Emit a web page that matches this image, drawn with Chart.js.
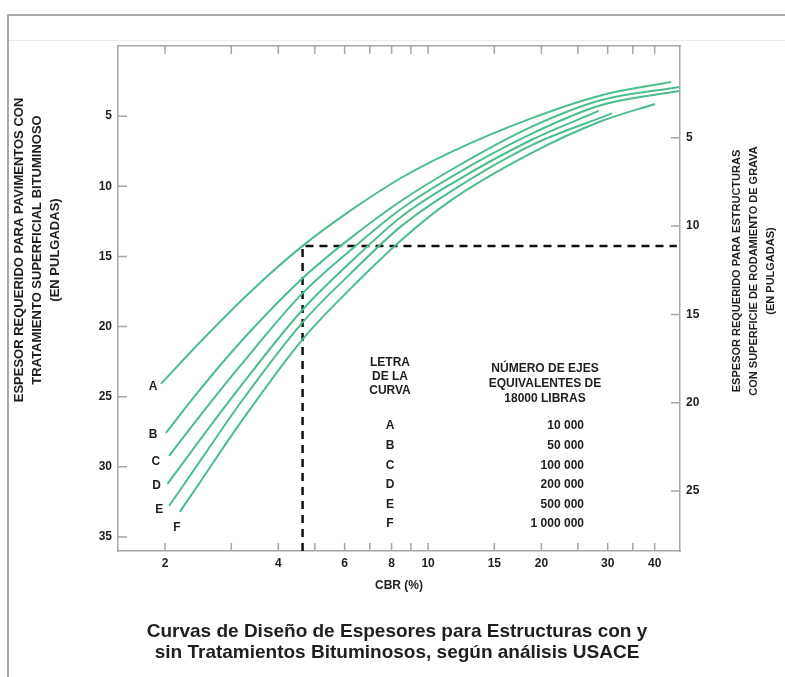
<!DOCTYPE html>
<html>
<head>
<meta charset="utf-8">
<script src="https://cdn.jsdelivr.net/npm/chart.js@4.4.1/dist/chart.umd.min.js"></script>
<style>
  body { margin: 0; background: #fff; }
  #wrap { position: relative; width: 785px; height: 677px; overflow: hidden; }
  #frame { position: absolute; left: 7px; top: 14px; width: 800px; height: 700px;
           border-left: 2px solid #a9a9a9; border-top: 2px solid #a9a9a9; }
  #rule { position: absolute; left: 9px; right: 0; top: 40px; height: 1px; background: #ececec; }
  canvas { position: absolute; left: 0; top: 0; }
</style>
</head>
<body>
<div id="wrap">
  <div id="frame"></div>
  <div id="rule"></div>
  <canvas id="c" width="785" height="677"></canvas>
</div>
<script>
// CBR (%) and required thickness (in)
const cbrA = [1.95, 2.48, 3.37, 4.64, 6.23, 8.47, 11.5, 18.8, 28.9, 44.2];
const espA = [24.09, 21.10, 17.53, 14.25, 11.72, 9.41, 7.56, 5.16, 3.51, 2.57];
const cbrB = [2.01, 2.48, 3.17, 4.64, 6.23, 8.47, 11.5, 18.8, 28.9, 46.5];
const espB = [27.58, 24.48, 21.12, 16.56, 13.68, 11.05, 8.84, 5.77, 3.85, 2.92];
const cbrC = [2.05, 2.48, 3.17, 4.64, 6.23, 8.47, 11.5, 18.8, 28.9, 46.5];
const espC = [29.22, 26.35, 22.79, 17.62, 14.54, 11.62, 9.34, 6.27, 4.21, 3.21];
const cbrD = [2.03, 2.48, 3.17, 4.64, 6.23, 8.47, 11.5, 18.8, 28.4];
const espD = [31.22, 28.05, 24.28, 18.80, 15.40, 12.19, 9.84, 6.70, 4.63];
const cbrE = [2.05, 2.48, 3.17, 4.64, 6.23, 8.47, 11.5, 18.8, 30.8];
const espE = [32.79, 29.58, 25.45, 19.70, 16.21, 12.86, 10.36, 7.08, 4.80];
const cbrF = [2.19, 2.48, 3.17, 4.64, 6.23, 8.47, 11.5, 18.8, 28.9, 40.1];
const espF = [33.21, 31.08, 26.87, 20.91, 17.28, 13.86, 11.01, 7.64, 5.35, 4.13];

// example reading (dashed)
const designCbr = 4.64;
const designEsp = 14.25;
const dashEndCbr = 45.8;

// axes
const xMin = 1.5, xMax = 46.7;
const yMin = 0, yMax = 36;
const y2Min = -0.2, y2Max = 28.4;
const xTicks = [2, 3, 4, 5, 6, 7, 8, 9, 10, 15, 20, 25, 30, 35, 40];
const xLabels = [2, 4, 6, 8, 10, 15, 20, 30, 40];
const leftTicks = [5, 10, 15, 20, 25, 30, 35];
const rightTicks = [5, 10, 15, 20, 25];

// curve letters next to curve starts, and the legend table
const curveLetters = ['A', 'B', 'C', 'D', 'E', 'F'];
const letterCbr = [1.86, 1.86, 1.89, 1.90, 1.93, 2.15];
const letterEsp = [24.3, 27.73, 29.65, 31.36, 33.07, 34.35];
const ejes = ['10 000', '50 000', '100 000', '200 000', '500 000', '1 000 000'];

const green = '#4cbd8d';
const axisGray = '#a6a6a6';
const ink = '#1e1e1e';
const FAMILY = '"Liberation Sans", Arial, sans-serif';
const tickFont = { family: FAMILY, size: 12, weight: 'bold' };

const curves = [[cbrA, espA], [cbrB, espB], [cbrC, espC], [cbrD, espD], [cbrE, espE], [cbrF, espF]];
const datasets = curves.map(([c, e], i) => ({
  label: curveLetters[i],
  data: c.map((v, j) => ({ x: v, y: e[j] })),
  borderColor: green,
  borderWidth: 2,
  pointRadius: 0,
  cubicInterpolationMode: 'monotone',
  fill: false
}));
datasets.push({
  label: 'diseño',
  data: [{ x: designCbr, y: yMax }, { x: designCbr, y: designEsp }, { x: dashEndCbr, y: designEsp }],
  borderColor: '#111',
  borderWidth: 2.5,
  borderDash: [8, 6],
  pointRadius: 0,
  tension: 0
});

function txt(ctx, s, x, y, size, align, rot) {
  ctx.save();
  ctx.translate(x, y);
  if (rot) ctx.rotate(rot);
  ctx.font = 'bold ' + size + 'px ' + FAMILY;
  ctx.textAlign = align || 'center';
  ctx.textBaseline = 'middle';
  ctx.fillStyle = ink;
  ctx.fillText(s, 0, 0);
  ctx.restore();
}

const decor = {
  id: 'decor',
  afterDraw(chart) {
    const ctx = chart.ctx;
    const { x, y, y2 } = chart.scales;
    const a = chart.chartArea;
    ctx.save();
    // tick marks point inward on all four sides
    ctx.strokeStyle = axisGray;
    ctx.lineWidth = 1.5;
    ctx.beginPath();
    xTicks.forEach(v => {
      const px = x.getPixelForValue(v);
      ctx.moveTo(px, a.bottom); ctx.lineTo(px, a.bottom - 8);
      ctx.moveTo(px, a.top); ctx.lineTo(px, a.top + 8);
    });
    leftTicks.forEach(v => {
      const py = y.getPixelForValue(v);
      ctx.moveTo(a.left, py); ctx.lineTo(a.left + 9, py);
    });
    rightTicks.forEach(v => {
      const py = y2.getPixelForValue(v);
      ctx.moveTo(a.right, py); ctx.lineTo(a.right - 9, py);
    });
    ctx.stroke();
    ctx.restore();

    // axis titles
    const up = -Math.PI / 2;
    txt(ctx, 'ESPESOR REQUERIDO PARA PAVIMENTOS CON', 19, 250, 13, 'center', up);
    txt(ctx, 'TRATAMIENTO SUPERFICIAL BITUMINOSO', 37, 250, 13, 'center', up);
    txt(ctx, '(EN PULGADAS)', 55, 250, 13, 'center', up);
    txt(ctx, 'ESPESOR REQUERIDO PARA ESTRUCTURAS', 737, 271, 11, 'center', up);
    txt(ctx, 'CON SUPERFICIE DE RODAMIENTO DE GRAVA', 754, 271, 11, 'center', up);
    txt(ctx, '(EN PULGADAS)', 771, 271, 11, 'center', up);

    // curve letters
    curveLetters.forEach((l, i) => {
      txt(ctx, l, x.getPixelForValue(letterCbr[i]), y.getPixelForValue(letterEsp[i]), 12, 'center');
    });

    // legend table
    ['LETRA', 'DE LA', 'CURVA'].forEach((s, i) => txt(ctx, s, 390, 363 + i * 14, 12, 'center'));
    ['NÚMERO DE EJES', 'EQUIVALENTES DE', '18000 LIBRAS'].forEach((s, i) => txt(ctx, s, 545, 369 + i * 15, 12, 'center'));
    curveLetters.forEach((l, i) => {
      txt(ctx, l, 390, 426 + i * 19.6, 12, 'center');
      txt(ctx, ejes[i], 584, 426 + i * 19.6, 12, 'right');
    });

    // caption
    txt(ctx, 'Curvas de Diseño de Espesores para Estructuras con y', 397, 632, 19, 'center');
    txt(ctx, 'sin Tratamientos Bituminosos, según análisis USACE', 397, 653, 19, 'center');
  }
};

new Chart(document.getElementById('c'), {
  type: 'line',
  data: { datasets: datasets },
  options: {
    responsive: false,
    animation: false,
    layout: { padding: 0 },
    plugins: { legend: { display: false }, tooltip: { enabled: false } },
    scales: {
      x: {
        type: 'logarithmic', position: 'bottom', min: xMin, max: xMax,
        afterBuildTicks: s => { s.ticks = xTicks.map(v => ({ value: v })); },
        afterFit: s => { s.height = 126; },
        grid: { display: false, drawTicks: false },
        border: { color: axisGray, width: 1.5 },
        ticks: {
          autoSkip: false, maxRotation: 0, padding: 5, color: ink, font: tickFont,
          callback: v => xLabels.includes(v) ? String(v) : ''
        },
        title: { display: true, text: 'CBR (%)', color: ink, font: { family: FAMILY, size: 12, weight: 'bold' }, padding: { top: 0, bottom: 84 } }
      },
      x2: {
        type: 'logarithmic', position: 'top', min: xMin, max: xMax,
        afterFit: s => { s.height = 46; },
        grid: { display: false, drawTicks: false },
        border: { color: axisGray, width: 1.5 },
        ticks: { display: false }
      },
      y: {
        type: 'linear', position: 'left', reverse: true, min: yMin, max: yMax,
        afterBuildTicks: s => { s.ticks = leftTicks.map(v => ({ value: v })); },
        afterFit: s => { s.width = 118; },
        grid: { display: false, drawTicks: false },
        border: { color: axisGray, width: 1.5 },
        ticks: { padding: 6, color: ink, font: tickFont }
      },
      y2: {
        type: 'linear', position: 'right', reverse: true, min: y2Min, max: y2Max,
        afterBuildTicks: s => { s.ticks = rightTicks.map(v => ({ value: v })); },
        afterFit: s => { s.width = 105; },
        grid: { display: false, drawTicks: false },
        border: { color: axisGray, width: 1.5 },
        ticks: { padding: 6, color: ink, font: tickFont }
      }
    }
  },
  plugins: [decor]
});
</script>
</body>
</html>
